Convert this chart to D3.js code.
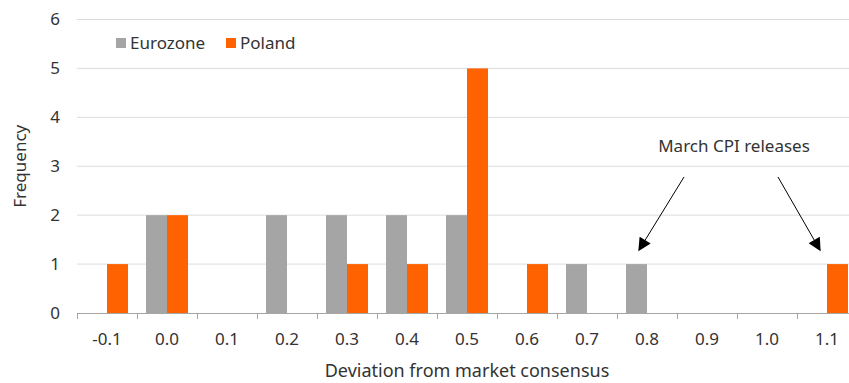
<!DOCTYPE html>
<html>
<head>
<meta charset="utf-8">
<script src="https://cdn.jsdelivr.net/npm/d3@7"></script>
<style>
  body { margin: 0; background: #fff; }
  svg { display: block; font-family: 'Noto Sans', 'Lato', sans-serif; }
</style>
</head>
<body>
<div id="chart"></div>
<script>
const categories = ['-0.1', '0.0', '0.1', '0.2', '0.3', '0.4', '0.5', '0.6', '0.7', '0.8', '0.9', '1.0', '1.1'];
const eurozone = [0, 2, 0, 2, 2, 2, 2, 0, 1, 1, 0, 0, 0];
const poland = [1, 2, 0, 0, 1, 1, 5, 1, 0, 0, 0, 0, 1];
const seriesNames = ['Eurozone', 'Poland'];
const yTicks = [0, 1, 2, 3, 4, 5, 6];

const w = 849;
const h = 383;
const margin = { top: 19.5, left: 77, bottom: 70 };
// plot runs past the right edge of the picture, like the original
const width = 780;
const height = h - margin.top - margin.bottom;
const fs = 17;

const colors = { Eurozone: '#a5a5a5', Poland: '#ff6200' };

const data = categories.map((c, i) => ({
  cat: c,
  values: [
    { key: 'Eurozone', value: eurozone[i] },
    { key: 'Poland', value: poland[i] }
  ]
}));

const svg = d3
  .select('#chart')
  .append('svg')
  .attr('width', w)
  .attr('height', h);

const g = svg
  .append('g')
  .attr('transform', 'translate(' + margin.left + ',' + margin.top + ')');

const x0 = d3
  .scaleBand()
  .domain(categories)
  .range([0, width])
  .paddingInner(0.3)
  .paddingOuter(0.15);

const x1 = d3
  .scaleBand()
  .domain(seriesNames)
  .range([0, x0.bandwidth()]);

const y = d3.scaleLinear().domain([0, 6]).range([height, 0]);

// gridlines
g.selectAll('.grid')
  .data(yTicks.slice(1))
  .enter()
  .append('line')
  .attr('x1', 0)
  .attr('x2', width)
  .attr('y1', d => y(d))
  .attr('y2', d => y(d))
  .attr('stroke', '#dcdcdc')
  .attr('stroke-width', 1);

// y labels
g.selectAll('.ylab')
  .data(yTicks)
  .enter()
  .append('text')
  .attr('x', -17)
  .attr('y', d => y(d))
  .attr('dy', '0.35em')
  .attr('text-anchor', 'end')
  .attr('font-size', fs)
  .attr('fill', '#333')
  .text(d => d);

// bars
const groups = g
  .selectAll('.grp')
  .data(data)
  .enter()
  .append('g')
  .attr('transform', d => 'translate(' + x0(d.cat) + ',0)');

groups
  .selectAll('rect')
  .data(d => d.values)
  .enter()
  .append('rect')
  .attr('x', d => x1(d.key))
  .attr('width', x1.bandwidth())
  .attr('y', d => y(d.value))
  .attr('height', d => height - y(d.value))
  .attr('fill', d => colors[d.key]);

// x axis line and ticks between categories
g.append('line')
  .attr('x1', 0)
  .attr('x2', width)
  .attr('y1', height + 0.5)
  .attr('y2', height + 0.5)
  .attr('stroke', '#a6a6a6');

const step = x0.step();
g.selectAll('.tick')
  .data(d3.range(categories.length + 1))
  .enter()
  .append('line')
  .attr('x1', d => d * step + 0.5)
  .attr('x2', d => d * step + 0.5)
  .attr('y1', height)
  .attr('y2', height + 6)
  .attr('stroke', '#a6a6a6');

g.selectAll('.xlab')
  .data(categories)
  .enter()
  .append('text')
  .attr('x', d => x0(d) + x0.bandwidth() / 2)
  .attr('y', height + 26)
  .attr('dy', '0.35em')
  .attr('text-anchor', 'middle')
  .attr('font-size', fs)
  .attr('fill', '#333')
  .text(d => d);

// axis titles
svg
  .append('text')
  .attr('x', 467)
  .attr('y', 371)
  .attr('dy', '0.35em')
  .attr('text-anchor', 'middle')
  .attr('font-size', 18)
  .attr('fill', '#333')
  .text('Deviation from market consensus');

svg
  .append('text')
  .attr('transform', 'translate(20,' + (margin.top + height / 2) + ') rotate(-90)')
  .attr('dy', '0.35em')
  .attr('text-anchor', 'middle')
  .attr('font-size', fs)
  .attr('fill', '#333')
  .text('Frequency');

// legend
const legend = svg
  .selectAll('.leg')
  .data(seriesNames)
  .enter()
  .append('g')
  .attr('transform', (d, i) => 'translate(' + (116 + i * 110) + ',38)');

legend
  .append('rect')
  .attr('width', 10)
  .attr('height', 10)
  .attr('fill', d => colors[d]);

legend
  .append('text')
  .attr('x', 14)
  .attr('y', 5)
  .attr('dy', '0.35em')
  .attr('font-size', fs)
  .attr('fill', '#333')
  .text(d => d);

// annotation
svg
  .append('defs')
  .append('marker')
  .attr('id', 'arrow')
  .attr('viewBox', '0 0 10 10')
  .attr('refX', 9)
  .attr('refY', 5)
  .attr('markerWidth', 14)
  .attr('markerHeight', 13)
  .attr('markerUnits', 'strokeWidth')
  .attr('orient', 'auto')
  .append('path')
  .attr('d', 'M0,0 L10,5 L0,10 z')
  .attr('fill', '#000');

svg
  .append('text')
  .attr('x', 734)
  .attr('y', 146)
  .attr('dy', '0.35em')
  .attr('text-anchor', 'middle')
  .attr('font-size', fs)
  .attr('fill', '#333')
  .text('March CPI releases');

const arrows = [
  { from: [684, 177], cat: '0.8', key: 'Eurozone', value: eurozone[9] },
  { from: [778, 177], cat: '1.1', key: 'Poland', value: poland[12] }
];

svg
  .selectAll('.arr')
  .data(arrows)
  .enter()
  .append('line')
  .attr('x1', d => d.from[0])
  .attr('y1', d => d.from[1])
  .attr('x2', d => margin.left + x0(d.cat) + x1(d.key) + (d.key === 'Eurozone' ? 13 : -7))
  .attr('y2', d => margin.top + y(d.value) - 14)
  .attr('stroke', '#000')
  .attr('stroke-width', 1)
  .attr('marker-end', 'url(#arrow)');
</script>
</body>
</html>
